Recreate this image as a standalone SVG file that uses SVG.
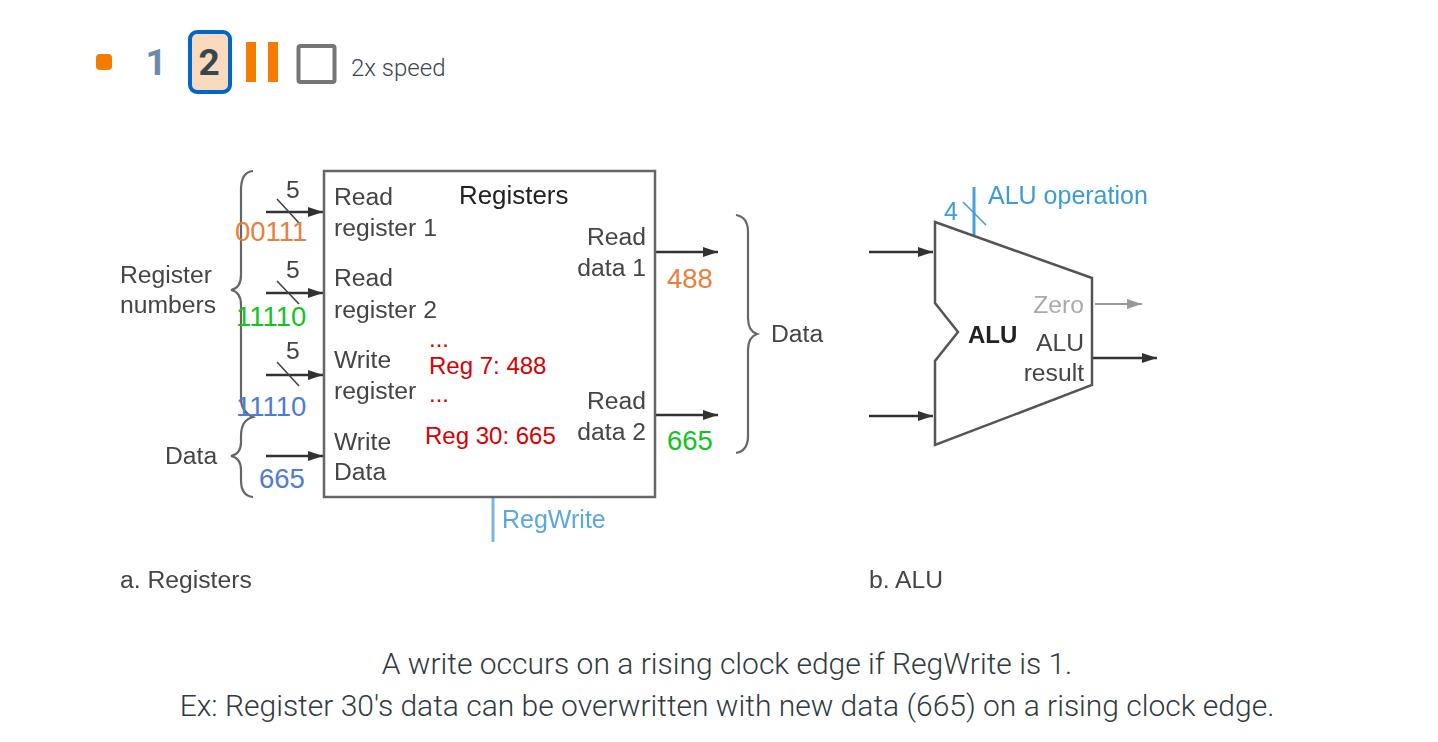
<svg xmlns="http://www.w3.org/2000/svg" width="1438" height="742" viewBox="0 0 1438 742">
<defs>
<marker id="ah" markerUnits="userSpaceOnUse" markerWidth="16" markerHeight="12" refX="15" refY="5" orient="auto"><path d="M0 0L15 5L0 10Z" fill="#333"/></marker>
<marker id="ahg" markerUnits="userSpaceOnUse" markerWidth="16" markerHeight="12" refX="15" refY="5" orient="auto"><path d="M0 0L15 5L0 10Z" fill="#999"/></marker>
<filter id="soft" x="-5%" y="-5%" width="110%" height="110%"><feGaussianBlur stdDeviation="0.6"/></filter>
</defs>
<style>
text{font-family:"Liberation Sans",Arial,sans-serif;}
.l{font-size:24.7px;fill:#444;}
.e{text-anchor:end;}
.c{font-size:27.5px;}
.r{font-size:24px;fill:#d80000;}
.b{font-size:25px;fill:#3d9bd6;}
.cap{font-family:Roboto,sans-serif;font-weight:300;font-size:30px;fill:#2f3a42;text-anchor:middle;}
.w{fill:none;stroke:#333;stroke-width:2.5;marker-end:url(#ah);}
.s{fill:none;stroke:#444;stroke-width:1.6;}
.br{fill:none;stroke:#666;stroke-width:2.2;}
.o{fill:#e87f3c;}.g{fill:#12c41d;}.u{fill:#4f7ad6;}
.n{font-family:Roboto,sans-serif;font-size:37px;font-weight:700;text-anchor:middle;}
</style>
<rect width="1438" height="742" fill="#fff"/>
<g id="controls">
<rect id="dot" x="96" y="54" width="16" height="16" rx="4" fill="#f57c00"/>
<text id="step1" class="n" x="156" y="75" fill="#6b8bad">1</text>
<g id="step2"><rect x="190" y="32" width="40" height="60" rx="7" fill="#fbd9bd" stroke="#0066cc" stroke-width="4"/>
<text class="n" x="209" y="75" fill="#37474f">2</text></g>
<g id="pause" fill="#f57c00"><rect x="246" y="42" width="10" height="40"/><rect x="268" y="42" width="10" height="40"/></g>
<rect id="checkbox" x="298.500" y="46" width="36" height="36" rx="2" fill="#fff" stroke="#757575" stroke-width="4"/>
<text id="speed" x="351" y="76" font-size="24" style="font-family:Roboto,sans-serif;font-weight:300" fill="#37474f">2x speed</text>
</g>
<g id="connectors" filter="url(#soft)">
<path class="w" d="M266 212H323"/><path class="w" d="M266 293H323"/><path class="w" d="M266 375H323"/><path class="w" d="M266 456H323"/>
<path class="s" d="M277 199L299 223M277 281L299 304M277 362L299 386"/>
<path class="w" d="M656 252H718"/><path class="w" d="M656 415H718"/>
<path class="w" d="M869 252H933"/><path class="w" d="M869 416H933"/>
<path fill="none" stroke="#999" stroke-width="1.8" marker-end="url(#ahg)" d="M1095 304H1142"/>
<path class="w" d="M1093 358H1157"/>
<path fill="none" stroke="#7db5de" stroke-width="3" d="M493 498V542"/>
<path fill="none" stroke="#4a9fd8" stroke-width="3" d="M974 187V235"/>
<path fill="none" stroke="#3d9bd6" stroke-width="1.6" d="M963 202L986 225"/>
</g>
<g id="registers" filter="url(#soft)">
<rect x="324" y="171" width="331" height="326" fill="#fff" stroke="#666" stroke-width="2.5"/>
<text x="459" y="204" font-size="25.900" fill="#222">Registers</text>
<text class="l" x="334" y="205">Read</text><text class="l" x="334" y="236">register 1</text>
<text class="l" x="334" y="286">Read</text><text class="l" x="334" y="318">register 2</text>
<text class="l" x="334" y="368">Write</text><text class="l" x="334" y="399">register</text>
<text class="l" x="334" y="450">Write</text><text class="l" x="334" y="480">Data</text>
<text class="l e" x="646" y="245">Read</text><text class="l e" x="646" y="276">data 1</text>
<text class="l e" x="646" y="409">Read</text><text class="l e" x="646" y="440">data 2</text>
<text class="l" x="286" y="198">5</text><text class="l" x="286" y="278">5</text><text class="l" x="286" y="359">5</text>
</g>
<g id="labels-left" filter="url(#soft)">
<path class="br" d="M253 171Q241 172 241 190V275Q241 288 231 290Q241 292 241 305V398Q241 412 253 417Q241 420 241 436V442Q241 454 231 456Q241 458 241 470V480Q241 496 253 497"/>
<text class="l" x="120" y="283">Register</text><text class="l" x="120" y="313">numbers</text>
<text class="l" x="165" y="464">Data</text>
<path class="br" d="M736 215Q748 217 748 232V318Q748 331 757 334Q748 337 748 350V436Q748 451 736 453"/>
<text class="l" x="771" y="342">Data</text>
<text x="502" y="528" class="b" style="fill:#5aa8dc">RegWrite</text>
<text class="l" x="120" y="588">a. Registers</text>
<text class="l" x="869" y="588">b. ALU</text>
</g>
<g id="alu" filter="url(#soft)">
<path d="M935 222L1092 278V385L935 445V361L958 332L935 303Z" fill="#fff" stroke="#555" stroke-width="2.5"/>
<text x="968" y="343" font-size="24" font-weight="700" fill="#222">ALU</text>
<text class="l e" x="1084" y="313" style="fill:#aaa">Zero</text>
<text class="l e" x="1084" y="351">ALU</text><text class="l e" x="1084" y="381">result</text>
<text class="b" x="944" y="220">4</text>
<text class="b" x="988" y="204">ALU operation</text>
</g>
<g id="values">
<text class="c o" x="235" y="241">00111</text>
<text class="c g" x="236" y="326">11110</text>
<text class="c u" x="236" y="416">11110</text>
<text class="c u" x="259" y="488">665</text>
<text class="c o" x="667" y="288">488</text>
<text class="c g" x="667" y="450">665</text>
<text class="r" x="429" y="347">...</text>
<text class="r" x="429" y="374">Reg 7: 488</text>
<text class="r" x="429" y="402">...</text>
<text class="r" x="425" y="444">Reg 30: 665</text>
</g>
<g id="caption">
<text class="cap" x="727" y="674">A write occurs on a rising clock edge if RegWrite is 1.</text>
<text class="cap" x="727" y="716">Ex: Register 30's data can be overwritten with new data (665) on a rising clock edge.</text>
</g>
</svg>
